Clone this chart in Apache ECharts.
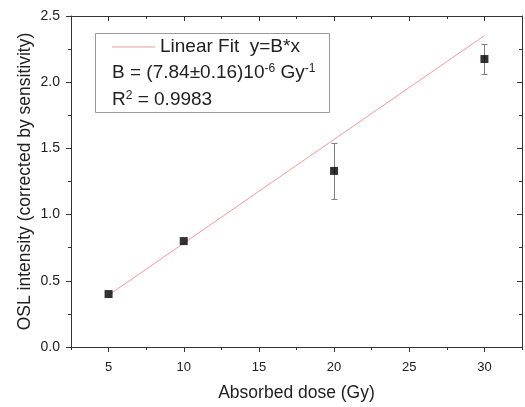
<!DOCTYPE html>
<html>
<head>
<meta charset="utf-8">
<script src="https://cdn.jsdelivr.net/npm/echarts@6/dist/echarts.min.js"></script>
<style>html,body{margin:0;padding:0;background:#fff}#c{width:525px;height:407px}</style>
</head>
<body>
<div id="c"></div>
<script>
// ---- data ----
var doses = [5, 10, 20, 30];
var intensity = [0.40, 0.80, 1.33, 2.175];
var errors = [0, 0, 0.21, 0.11];
var fitX = [5, 30];
var fitY = [0.392, 2.352];
var xMajorTicks = [5, 10, 15, 20, 25, 30];
var xMinorTicks = [2.5, 7.5, 12.5, 17.5, 22.5, 27.5, 32.5];
var fitName = 'Linear Fit  y=B*x';
var line2 = 'B = (7.84±0.16)10{sup|-6} Gy{sup|-1}';
var line3 = 'R{sup|2} = 0.9983';

var FONT = '"Liberation Sans", Arial, Helvetica, sans-serif';
var TXT = '#222222';
var AX = '#333333';
var FIT = '#f29a9e';

var chart = echarts.init(document.getElementById('c'), null, {renderer: 'canvas'});

var pts = doses.map(function (d, i) { return [d, intensity[i]]; });
var errData = [];
doses.forEach(function (d, i) {
  if (errors[i] > 0) errData.push([d, intensity[i] - errors[i], intensity[i] + errors[i]]);
});
var fitData = fitX.map(function (x, i) { return [x, fitY[i]]; });

function xAx(extra) {
  var base = {
    type: 'value', min: 2.5, max: 32.5,
    splitLine: {show: false},
    axisLine: {show: false, onZero: false, lineStyle: {color: AX, width: 1}},
    axisLabel: {show: false},
    axisTick: {show: true, lineStyle: {color: AX, width: 1}}
  };
  for (var k in extra) {
    if (typeof extra[k] === 'object' && !Array.isArray(extra[k]) && base[k]) {
      base[k] = Object.assign({}, base[k], extra[k]);
    } else base[k] = extra[k];
  }
  return base;
}

var supStyle = {fontSize: 12, fill: TXT, verticalAlign: 'top', lineHeight: 12, padding: [0, 0, 10, 0], fontFamily: FONT};

var option = {
  animation: false,
  backgroundColor: '#fff',
  textStyle: {fontFamily: FONT},
  grid: {left: 71, right: 3, top: 16, bottom: 58, containLabel: false},
  legend: {
    left: 112, top: 37, padding: 0,
    itemWidth: 43, itemHeight: 1,
    textStyle: {fontSize: 19, color: TXT, fontFamily: FONT, lineHeight: 20},
    data: [{name: fitName, icon: 'rect', itemStyle: {color: FIT}}]
  },
  xAxis: [
    xAx({
      position: 'bottom',
      axisLine: {show: true},
      axisTick: {customValues: xMajorTicks, length: 5},
      axisLabel: {show: true, customValues: xMajorTicks, margin: 14, fontSize: 13, color: TXT, fontFamily: FONT},
      name: 'Absorbed dose (Gy)', nameLocation: 'middle', nameGap: 37, nameMoveOverlap: false,
      nameTextStyle: {fontSize: 17.5, color: TXT, fontFamily: FONT}
    }),
    xAx({position: 'bottom', axisTick: {customValues: xMinorTicks, length: 3}}),
    xAx({position: 'top', axisLine: {show: true}, axisTick: {customValues: xMajorTicks, length: 5, inside: true}}),
    xAx({position: 'top', axisTick: {customValues: xMinorTicks, length: 3, inside: true}})
  ],
  yAxis: [
    {
      type: 'value', position: 'left', min: 0, max: 2.5, interval: 0.5,
      splitLine: {show: false},
      axisLine: {show: true, onZero: false, lineStyle: {color: AX, width: 1}},
      axisTick: {show: true, length: 5, lineStyle: {color: AX, width: 1}},
      minorTick: {show: true, splitNumber: 2, length: 3, lineStyle: {color: AX, width: 1}},
      axisLabel: {margin: 11, fontSize: 14, color: TXT, fontFamily: FONT,
        formatter: function (v) { return v.toFixed(1); }},
      name: 'OSL intensity (corrected by sensitivity)', nameLocation: 'middle', nameGap: 37, nameMoveOverlap: false,
      nameTextStyle: {fontSize: 17.5, color: TXT, fontFamily: FONT}
    },
    {
      type: 'value', position: 'right', min: 0, max: 2.5, interval: 0.5,
      splitLine: {show: false},
      axisLine: {show: true, onZero: false, lineStyle: {color: AX, width: 1}},
      axisTick: {show: true, inside: true, length: 5, lineStyle: {color: AX, width: 1}},
      minorTick: {show: true, splitNumber: 2, length: 3, lineStyle: {color: AX, width: 1}},
      axisLabel: {show: false}
    }
  ],
  graphic: [
    {
      type: 'rect', z: 0, silent: true,
      shape: {x: 95.5, y: 33.5, width: 234, height: 79},
      style: {fill: '#fff', stroke: '#9a9a9a', lineWidth: 1}
    },
    {
      type: 'text', z: 10, left: 112, top: 63, silent: true,
      style: {text: line2, fill: TXT, font: '19px ' + FONT, rich: {sup: supStyle}}
    },
    {
      type: 'text', z: 10, left: 112, top: 90, silent: true,
      style: {text: line3, fill: TXT, font: '19px ' + FONT, rich: {sup: supStyle}}
    }
  ],
  series: [
    {
      name: fitName, type: 'line', xAxisIndex: 0, yAxisIndex: 0,
      data: fitData, symbol: 'none', z: 2,
      lineStyle: {color: FIT, width: 1},
      itemStyle: {color: FIT}
    },
    {
      name: 'errors', type: 'custom', xAxisIndex: 0, yAxisIndex: 0, z: 3,
      data: errData,
      renderItem: function (params, api) {
        var x = api.value(0);
        var lo = api.coord([x, api.value(1)]);
        var hi = api.coord([x, api.value(2)]);
        var cx = Math.round(lo[0]) + 0.5;
        var yl = Math.round(lo[1]) + 0.5, yh = Math.round(hi[1]) + 0.5;
        var w = 3;
        var st = {stroke: '#808080', lineWidth: 1};
        return {type: 'group', children: [
          {type: 'line', shape: {x1: cx, y1: yh, x2: cx, y2: yl}, style: st},
          {type: 'line', shape: {x1: cx - w, y1: yh, x2: cx + w, y2: yh}, style: st},
          {type: 'line', shape: {x1: cx - w, y1: yl, x2: cx + w, y2: yl}, style: st}
        ]};
      }
    },
    {
      name: 'data', type: 'scatter', xAxisIndex: 0, yAxisIndex: 0, z: 4,
      data: pts, symbol: 'rect', symbolSize: 8,
      itemStyle: {color: '#000'}
    }
  ]
};
chart.setOption(option);
</script>
</body>
</html>
